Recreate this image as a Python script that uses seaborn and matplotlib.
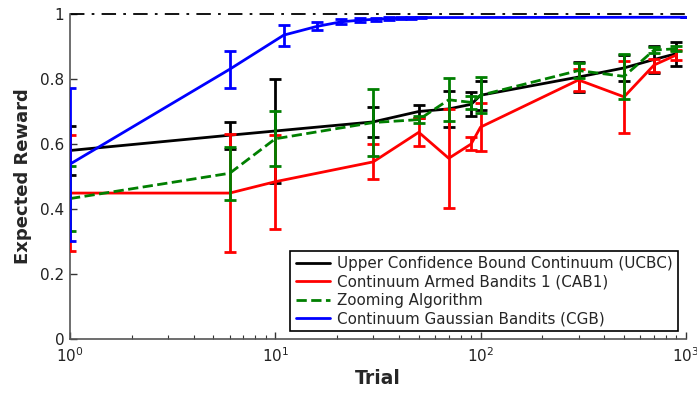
import numpy as np
import pandas as pd
import seaborn as sns
import matplotlib
matplotlib.use("Agg")
import matplotlib.pyplot as plt
from matplotlib.ticker import FixedLocator, FuncFormatter

# ---- data ----
trials = [1, 6, 10, 30, 50, 70, 90, 100, 300, 500, 700, 900]

ucbc_mean = [0.580, 0.627, 0.640, 0.668, 0.700, 0.708, 0.722, 0.750, 0.806, 0.834, 0.860, 0.878]
ucbc_err  = [0.075, 0.042, 0.160, 0.046, 0.020, 0.055, 0.037, 0.044, 0.046, 0.040, 0.042, 0.037]

cab1_mean = [0.449, 0.449, 0.484, 0.545, 0.636, 0.556, 0.600, 0.652, 0.797, 0.745, 0.843, 0.874]
cab1_err  = [0.178, 0.182, 0.145, 0.054, 0.043, 0.153, 0.020, 0.074, 0.034, 0.110, 0.020, 0.015]

zoom_mean = [0.432, 0.510, 0.616, 0.666, 0.675, 0.736, 0.728, 0.750, 0.826, 0.808, 0.889, 0.893]
zoom_err  = [0.100, 0.081, 0.085, 0.103, 0.010, 0.066, 0.020, 0.055, 0.024, 0.070, 0.010, 0.008]

cgb_trials = [1, 6, 11, 16, 21, 26, 31, 36, 41, 46, 51, 1000]
cgb_mean = [0.538, 0.830, 0.935, 0.962, 0.976, 0.981, 0.984, 0.986, 0.987, 0.988, 0.989, 0.990]
cgb_err  = [0.235, 0.057, 0.032, 0.012, 0.008, 0.006, 0.005, 0.004, 0.003, 0.003, 0.002, 0.0]

optimum = 1.0

series = [
    ("Upper Confidence Bound Continuum (UCBC)", trials, ucbc_mean, ucbc_err, "#000000", "-"),
    ("Continuum Armed Bandits 1 (CAB1)", trials, cab1_mean, cab1_err, "#ff0000", "-"),
    ("Zooming Algorithm", trials, zoom_mean, zoom_err, "#007f00", "--"),
    ("Continuum Gaussian Bandits (CGB)", cgb_trials, cgb_mean, cgb_err, "#0000ff", "-"),
]

sns.set_style("ticks")
plt.rcParams["font.family"] = ["DejaVu Sans"]

fig = plt.figure(figsize=(6.97, 3.94), dpi=100)
ax = fig.add_axes([0.1004, 0.1396, 0.8836, 0.8249])

ax.set_xscale("log")
ax.axhline(optimum, color="k", ls="-.", lw=1.3, dashes=(8, 4, 1.5, 4), clip_on=False, zorder=1)

for i, (name, x, m, e, col, ls) in enumerate(series):
    df = pd.DataFrame({"Trial": x, "Reward": m})
    sns.lineplot(data=df, x="Trial", y="Reward", ax=ax, color=col, lw=2,
                 linestyle=ls, label=name, zorder=2 + i,
                 **({"dashes": (3.5, 2)} if ls == "--" else {}))
    ax.errorbar(x, m, yerr=e, fmt="none", ecolor=col, elinewidth=2,
                capsize=4.3, capthick=2, zorder=2 + i)

ax.set_xlim(1, 1000)
ax.set_ylim(0, 1)
ax.yaxis.set_major_locator(FixedLocator([0, 0.2, 0.4, 0.6, 0.8, 1.0]))
ax.yaxis.set_major_formatter(FuncFormatter(lambda v, p: f"{v:g}"))

ax.tick_params(axis="both", which="both", direction="in", labelsize=11,
               color="#333333", labelcolor="#222222")
ax.tick_params(axis="both", which="major", length=5, width=1)
ax.tick_params(axis="x", which="major", pad=5)
ax.tick_params(axis="y", which="major", pad=4)
ax.tick_params(axis="x", which="minor", length=3, width=0.8)
for s in ["top", "right"]:
    ax.spines[s].set_visible(False)
for s in ["left", "bottom"]:
    ax.spines[s].set_color("#555555")
    ax.spines[s].set_linewidth(1.2)

ax.set_xlabel("Trial", fontsize=13.5, fontweight="bold", labelpad=3)
ax.set_ylabel("Expected Reward", fontsize=13, fontweight="bold", labelpad=6)

leg = ax.legend(loc="lower right", fontsize=10.9, frameon=True, fancybox=False,
                borderaxespad=0.5, handlelength=2.3, borderpad=0.35,
                labelspacing=0.22, handletextpad=0.45)
leg.get_frame().set_edgecolor("black")
leg.get_frame().set_linewidth(1.2)
leg.get_frame().set_alpha(1)

fig.savefig("out.png", dpi=100)
